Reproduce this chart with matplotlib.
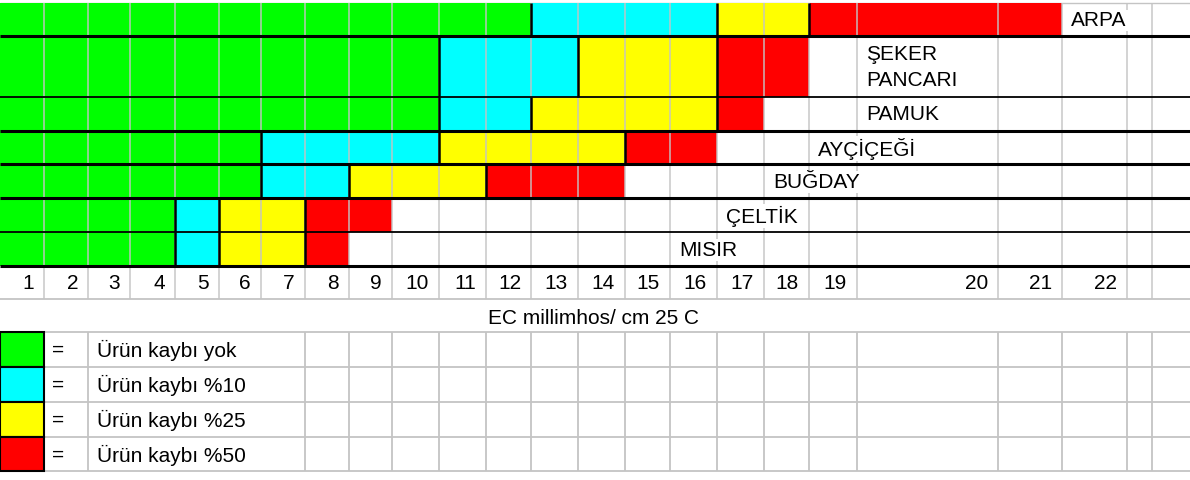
import matplotlib.pyplot as plt

# crop rows, top to bottom
crops = ["ARPA", "ŞEKER\nPANCARI", "PAMUK", "AYÇİÇEĞİ", "BUĞDAY", "ÇELTİK", "MISIR"]
# last EC column (1-based) of each loss class per crop
green_end = [12, 10, 10, 6, 6, 4, 4]
cyan_end = [16, 13, 12, 10, 8, 5, 5]
yellow_end = [18, 16, 16, 14, 11, 7, 7]
red_end = [21, 18, 17, 16, 14, 9, 8]
label_col = [22, 20, 20, 19, 18, 17, 16]
ec_labels = [str(i) for i in range(1, 23)]
axis_title = "EC millimhos/ cm 25 C"
legend_labels = ["Ürün kaybı yok", "Ürün kaybı %10", "Ürün kaybı %25", "Ürün kaybı %50"]
colors = ["#00ff00", "#00ffff", "#ffff00", "#ff0000"]

# sheet layout (pixels)
col_edges = [0, 44, 88, 130, 175, 219, 261, 305, 349, 392, 439, 486, 531, 578,
             625, 670, 717, 764, 809, 857, 998, 1062, 1127, 1152, 1190]
row_edges = [3, 36, 97, 131, 164, 198, 232, 266]
num_row = (266, 299)
leg_edges = [332, 367, 402, 437, 471]
W, H = 1190, 480
grid = "#c4c4c4"
font = "Liberation Sans"
fs = 15

fig = plt.figure(figsize=(11.9, 4.8), dpi=100)
ax = fig.add_axes([0, 0, 1, 1])
ax.set_xlim(0, W)
ax.set_ylim(H, 0)
ax.axis("off")

# gridlines
ax.hlines(row_edges[0], 0, W, color=grid, lw=1, zorder=1)
for x in col_edges[1:-1]:
    ax.vlines(x, row_edges[0], num_row[1], color=grid, lw=1.3, alpha=0.8, zorder=2)
ax.hlines(num_row[1], 0, W, color=grid, lw=1.3, zorder=1)

# colored cells
for r, crop in enumerate(crops):
    y0, y1 = row_edges[r], row_edges[r + 1]
    starts = [0, green_end[r], cyan_end[r], yellow_end[r]]
    ends = [green_end[r], cyan_end[r], yellow_end[r], red_end[r]]
    for s, e, c in zip(starts, ends, colors):
        if e > s:
            ax.barh((y0 + y1) / 2, col_edges[e] - col_edges[s], height=y1 - y0,
                    left=col_edges[s], color=c, lw=0, zorder=1)
    for b in ends[:-1]:
        ax.vlines(col_edges[b], y0, y1, color="black", lw=1.8, zorder=4)
    tx = col_edges[label_col[r] - 1] + 9
    ax.text(tx, (y0 + y1) / 2 + 1, crop, fontsize=fs, family=font, ha="left",
            va="center", linespacing=1.45, zorder=3,
            bbox=dict(facecolor="white", edgecolor="none", pad=1))

# black row separators
for y in row_edges[1:]:
    lw = 1.3 if y in (97, 232) else 2.2
    ax.hlines(y, 0, W, color="black", lw=lw, zorder=5)

# EC numbers
for i, lab in enumerate(ec_labels):
    ax.text(col_edges[i + 1] - 10, sum(num_row) / 2 + 1, lab, fontsize=fs,
            family=font, ha="right", va="center", zorder=3)
ax.text(593, 318, axis_title, fontsize=fs, family=font, ha="center", va="center")

# legend
for y in leg_edges:
    ax.hlines(y, 0, W, color=grid, lw=1.3, zorder=1)
for x in [44, 88] + col_edges[7:-1]:
    ax.vlines(x, leg_edges[0], leg_edges[-1], color=grid, lw=1.3, zorder=1)
for i, (lab, c) in enumerate(zip(legend_labels, colors)):
    y0, y1 = leg_edges[i], leg_edges[i + 1]
    ax.add_patch(plt.Rectangle((0, y0), 44, y1 - y0, facecolor=c,
                               edgecolor="black", lw=1.5, zorder=3))
    ax.text(52, (y0 + y1) / 2 + 1, "=", fontsize=fs, family=font,
            ha="left", va="center", zorder=3)
    ax.text(97, (y0 + y1) / 2 + 1, lab, fontsize=fs, family=font,
            ha="left", va="center", zorder=3)

fig.savefig("out.png", dpi=100)
